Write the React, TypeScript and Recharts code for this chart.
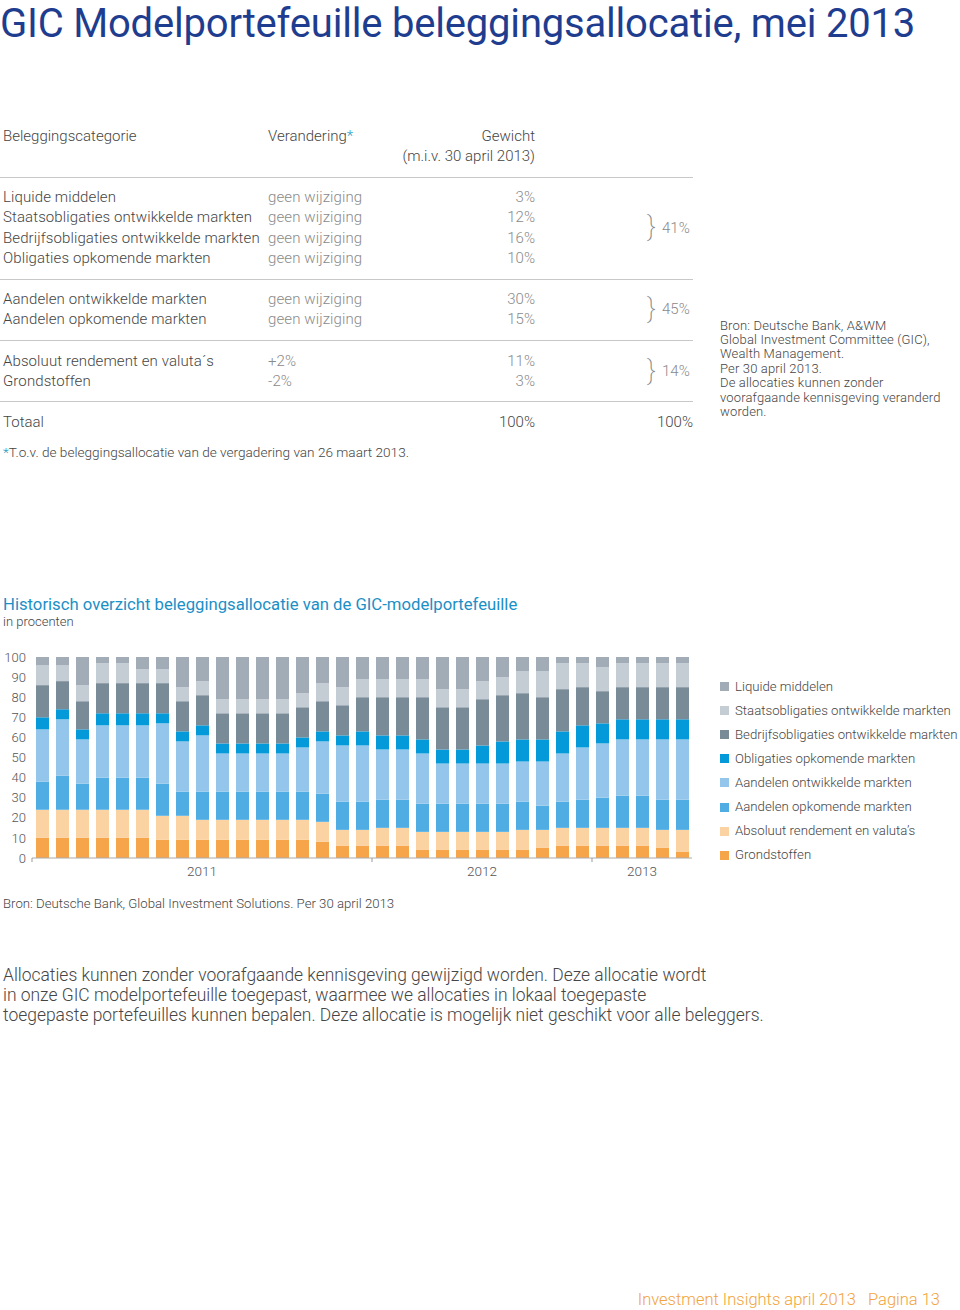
import React from "react"
import { Bar, BarChart, XAxis, YAxis } from "recharts"

// one entry per GIC meeting, grouped by year
const barYears: string[] = [
  ...Array(17).fill("2011"),
  ...Array(11).fill("2012"),
  ...Array(5).fill("2013"),
]

// bottom to top of each stack
const grondstoffen = [10, 10, 10, 10, 10, 10, 9, 9, 9, 9, 9, 9, 9, 9, 8, 6, 6, 6, 6, 4, 4, 4, 4, 4, 4, 5, 6, 6, 6, 6, 6, 5, 3]
const absoluutRendement = [14, 14, 14, 14, 14, 14, 12, 12, 10, 10, 10, 10, 10, 10, 10, 8, 8, 9, 9, 9, 9, 9, 9, 9, 10, 9, 9, 9, 9, 9, 9, 9, 11]
const aandelenOpkomend = [14, 17, 13, 16, 16, 16, 16, 12, 14, 14, 14, 14, 14, 14, 14, 14, 14, 14, 14, 14, 14, 14, 14, 14, 14, 12, 13, 14, 15, 16, 16, 15, 15]
const aandelenOntwikkeld = [26, 28, 22, 26, 26, 26, 30, 25, 28, 19, 19, 19, 19, 22, 26, 28, 28, 25, 25, 25, 20, 20, 20, 20, 20, 22, 24, 26, 27, 28, 28, 30, 30]
const obligatiesOpkomend = [6, 5, 5, 6, 6, 6, 5, 5, 5, 5, 5, 5, 5, 5, 5, 5, 7, 7, 7, 7, 7, 7, 9, 11, 11, 11, 11, 11, 10, 10, 10, 10, 10]
const bedrijfsobligaties = [16, 14, 14, 15, 15, 15, 15, 15, 15, 15, 15, 15, 15, 15, 15, 15, 17, 19, 19, 21, 21, 21, 23, 23, 23, 21, 21, 19, 16, 16, 16, 16, 16]
const staatsobligaties = [10, 8, 8, 10, 10, 7, 7, 7, 7, 7, 7, 7, 7, 7, 9, 9, 9, 9, 9, 9, 9, 9, 9, 9, 11, 13, 13, 12, 12, 12, 12, 12, 12]
const liquide = [4, 4, 14, 3, 3, 6, 6, 15, 12, 21, 21, 21, 21, 18, 13, 15, 11, 11, 11, 11, 16, 16, 12, 10, 7, 7, 3, 3, 5, 3, 3, 3, 3]

const yTicks = [0, 10, 20, 30, 40, 50, 60, 70, 80, 90, 100]

const series = [
  { key: "grond", name: "Grondstoffen", color: "#f6a54a", values: grondstoffen },
  { key: "absol", name: "Absoluut rendement en valuta\u2019s", color: "#fbd3a3", values: absoluutRendement },
  { key: "aOpk", name: "Aandelen opkomende markten", color: "#4fade4", values: aandelenOpkomend },
  { key: "aOntw", name: "Aandelen ontwikkelde markten", color: "#94c6ec", values: aandelenOntwikkeld },
  { key: "oOpk", name: "Obligaties opkomende markten", color: "#0499d8", values: obligatiesOpkomend },
  { key: "bedr", name: "Bedrijfsobligaties ontwikkelde markten", color: "#7a8b98", values: bedrijfsobligaties },
  { key: "staats", name: "Staatsobligaties ontwikkelde markten", color: "#c4ccd4", values: staatsobligaties },
  { key: "liq", name: "Liquide middelen", color: "#a2acb7", values: liquide },
]

const data = barYears.map((year, i) => {
  const row: Record<string, string | number> = { period: `${year}-${i}`, year }
  series.forEach((s) => (row[s.key] = s.values[i]))
  return row
})

const tableGroups = [
  [
    ["Liquide middelen", "geen wijziging", "3%"],
    ["Staatsobligaties ontwikkelde markten", "geen wijziging", "12%"],
    ["Bedrijfsobligaties ontwikkelde markten", "geen wijziging", "16%"],
    ["Obligaties opkomende markten", "geen wijziging", "10%"],
  ],
  [
    ["Aandelen ontwikkelde markten", "geen wijziging", "30%"],
    ["Aandelen opkomende markten", "geen wijziging", "15%"],
  ],
  [
    ["Absoluut rendement en valuta\u00b4s", "+2%", "11%"],
    ["Grondstoffen", "-2%", "3%"],
  ],
]
const groupTotals = ["41%", "45%", "14%"]

const noteLines = [
  "Bron: Deutsche Bank, A&WM",
  "Global Investment Committee (GIC),",
  "Wealth Management.",
  "Per 30 april 2013.",
  "De allocaties kunnen zonder",
  "voorafgaande kennisgeving veranderd",
  "worden.",
]

const paragraph = [
  "Allocaties kunnen zonder voorafgaande kennisgeving gewijzigd worden. Deze allocatie wordt",
  "in onze GIC modelportefeuille toegepast, waarmee we allocaties in lokaal toegepaste",
  "toegepaste portefeuilles kunnen bepalen. Deze allocatie is mogelijk niet geschikt voor alle beleggers.",
]

const FONT = "Roboto, 'Liberation Sans', sans-serif"

function Txt(props: {
  x: number
  y: number
  size: number
  color?: string
  right?: boolean
  weight?: number
  spacing?: number
  lh?: number
  children: React.ReactNode
}) {
  const { x, y, size, color = "#454545", right, weight = 300, spacing = 0, lh = 1.3 } = props
  const h = Math.round(size * lh)
  const style: React.CSSProperties = {
    position: "absolute",
    top: y - h / 2,
    height: h,
    lineHeight: `${h}px`,
    fontSize: size,
    color,
    fontWeight: weight,
    letterSpacing: spacing,
    whiteSpace: "nowrap",
  }
  if (right) {
    style.left = x - 600
    style.width = 600
    style.textAlign = "right"
  } else {
    style.left = x
  }
  return <div style={style}>{props.children}</div>
}

function Rule({ y }: { y: number }) {
  return <div style={{ position: "absolute", left: 0, top: y, width: 693, height: 1, background: "#c8c8c8" }} />
}

function YearTick(props: any) {
  const { x, y, index } = props
  const yr = barYears[index]
  const start = barYears.indexOf(yr)
  const count = barYears.filter((v) => v === yr).length
  const mid = start + Math.floor(count / 2)
  return (
    <g>
      {index === start && <line x1={x - 10} x2={x - 10} y1={y} y2={y + 4} stroke="#999" />}
      {index === mid && (
        <text x={x} y={y + 18} textAnchor="middle" fontSize={13.5} fill="#555" fontFamily={FONT} fontWeight={300}>
          {yr}
        </text>
      )}
    </g>
  )
}

export default function App() {
  const rowY0 = [197, 299, 361]
  return (
    <div style={{ position: "absolute", left: 0, top: 0, width: 960, height: 1310, background: "#fff", fontFamily: FONT, overflow: "hidden" }}>
      <Txt x={0} y={24} size={40} lh={1.2} color="#1f3d8f" weight={400} spacing={-0.2}>
        GIC Modelportefeuille beleggingsallocatie, mei 2013
      </Txt>

      <Txt x={3} y={136} size={15}>Beleggingscategorie</Txt>
      <Txt x={268} y={136} size={15}>
        Verandering<span style={{ color: "#2a9dc4" }}>*</span>
      </Txt>
      <Txt x={535} y={136} size={15} right>Gewicht</Txt>
      <Txt x={535} y={156} size={15} right>(m.i.v. 30 april 2013)</Txt>
      <Rule y={177} />

      {tableGroups.map((rows, g) => (
        <React.Fragment key={g}>
          {rows.map((r, i) => {
            const y = rowY0[g] + i * 20.4
            return (
              <React.Fragment key={i}>
                <Txt x={3} y={y} size={15} spacing={0.1}>{r[0]}</Txt>
                <Txt x={268} y={y} size={15} color="#8a8a8a" spacing={0.1}>{r[1]}</Txt>
                <Txt x={535} y={y} size={15} color="#8a8a8a" right>{r[2]}</Txt>
              </React.Fragment>
            )
          })}
          <Txt x={647} y={rowY0[g] + ((rows.length - 1) * 20.4) / 2 - 1} size={27} color="#8a8a8a" weight={200}>
            {"}"}
          </Txt>
          <Txt x={662} y={rowY0[g] + ((rows.length - 1) * 20.4) / 2} size={15} color="#8a8a8a">
            {groupTotals[g]}
          </Txt>
          <Rule y={[279, 340, 401][g]} />
        </React.Fragment>
      ))}
      <Txt x={3} y={422} size={15}>Totaal</Txt>
      <Txt x={535} y={422} size={15} right>100%</Txt>
      <Txt x={693} y={422} size={15} right>100%</Txt>
      <Txt x={3} y={452} size={13.6}>
        <span style={{ color: "#2a9dc4" }}>*</span>T.o.v. de beleggingsallocatie van de vergadering van 26 maart 2013.
      </Txt>

      {noteLines.map((l, i) => (
        <Txt key={i} x={720} y={325 + i * 14.4} size={13} spacing={0.15}>{l}</Txt>
      ))}

      <Txt x={3} y={605} size={16.7} color="#1b8fc6" weight={400}>
        Historisch overzicht beleggingsallocatie van de GIC-modelportefeuille
      </Txt>
      <Txt x={3} y={621} size={13}>in procenten</Txt>

      <div style={{ position: "absolute", left: 0, top: 640 }}>
        <BarChart width={700} height={245} data={data} margin={{ top: 17, right: 8, bottom: 0, left: 4 }} barSize={13}>
          <XAxis
            dataKey="period"
            interval={0}
            height={27}
            tickLine={false}
            tickSize={0}
            tickMargin={0}
            axisLine={{ stroke: "#aaa" }}
            tick={<YearTick />}
          />
          <YAxis
            domain={[0, 100]}
            ticks={yTicks}
            interval={0}
            width={28}
            axisLine={false}
            tickLine={false}
            tickMargin={0}
            tick={{ fontSize: 13, fill: "#555", fontFamily: FONT, fontWeight: 300 }}
          />
          {series.map((s) => (
            <Bar key={s.key} dataKey={s.key} name={s.name} stackId="a" fill={s.color} isAnimationActive={false} />
          ))}
        </BarChart>
      </div>

      {[...series].reverse().map((s, i) => (
        <React.Fragment key={s.key}>
          <div style={{ position: "absolute", left: 720, top: 682 + i * 24.1, width: 9, height: 9, background: s.color }} />
          <Txt x={735} y={686 + i * 24.1} size={13.2}>{s.name}</Txt>
        </React.Fragment>
      ))}

      <Txt x={3} y={903} size={13.2}>Bron: Deutsche Bank, Global Investment Solutions. Per 30 april 2013</Txt>

      {paragraph.map((l, i) => (
        <Txt key={i} x={3} y={975 + i * 20} size={17.45}>{l}</Txt>
      ))}

      <Txt x={940} y={1299} size={16.5} color="#f2a33c" right>
        Investment Insights april 2013&nbsp;&nbsp;&nbsp;Pagina 13
      </Txt>
    </div>
  )
}
